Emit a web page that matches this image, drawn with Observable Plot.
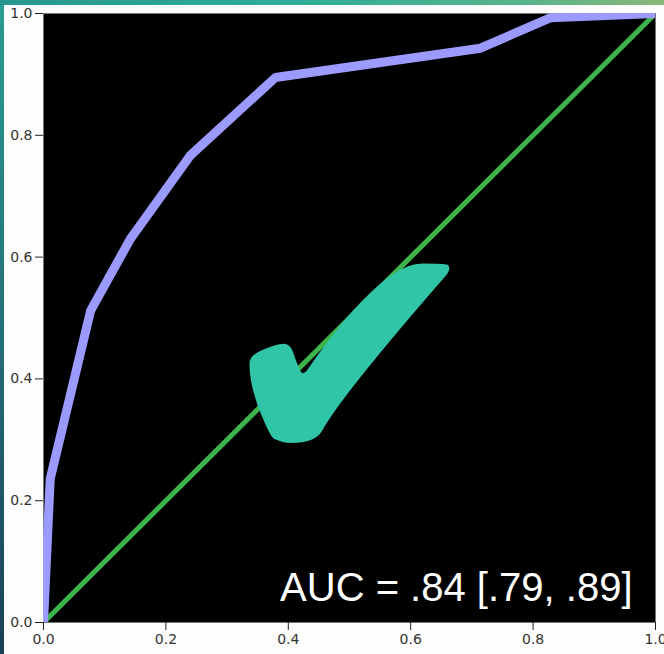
<!DOCTYPE html>
<html>
<head>
<meta charset="utf-8">
<script src="https://cdn.jsdelivr.net/npm/d3@7"></script>
<script src="https://cdn.jsdelivr.net/npm/@observablehq/plot@0.6"></script>
<style>
  html, body { margin: 0; padding: 0; }
  body {
    width: 664px; height: 654px; overflow: hidden; position: relative;
    background: linear-gradient(180deg, #2a9d90 0%, #23707a 50%, #1b3f5a 100%);
  }
  #topstrip {
    position: absolute; left: 0; top: 0; width: 664px; height: 6px;
    background: linear-gradient(90deg, #26978e 0%, #2fae98 45%, #5ab48a 80%, #8ab877 100%);
  }
  #panel {
    position: absolute; left: 4px; top: 5px; width: 660px; height: 649px; background: #fdfdfd;
  }
</style>
</head>
<body>
<div id="topstrip"></div>
<div id="panel"></div>
<script>
// ROC curve (false positive rate, true positive rate)
const fpr = [0.0, 0.011, 0.077, 0.142, 0.24, 0.379, 0.714, 0.828, 1.0];
const tpr = [0.0, 0.236, 0.512, 0.63, 0.767, 0.895, 0.943, 0.993, 1.0];
// chance line
const chanceX = [0, 1];
const chanceY = [0, 1];
const tickValues = [0.0, 0.2, 0.4, 0.6, 0.8, 1.0];
const aucLabel = "AUC = .84 [.79, .89]";
const checkGlyph = "\u2714";

const roc = fpr.map((x, i) => ({x, y: tpr[i]}));
const chance = chanceX.map((x, i) => ({x, y: chanceY[i]}));

const chart = Plot.plot({
  width: 660,
  height: 649,
  marginLeft: 39,
  marginTop: 8,
  marginRight: 9,
  marginBottom: 32,
  style: {background: "transparent", fontFamily: "DejaVu Sans, sans-serif", fontSize: "13px", color: "#333"},
  x: {domain: [0, 1], ticks: tickValues, tickFormat: d3.format(".1f"), label: null, tickSize: 8, tickPadding: 4},
  y: {domain: [0, 1], ticks: tickValues, tickFormat: d3.format(".1f"), label: null, tickSize: 8, tickPadding: 3},
  marks: [
    Plot.frame({fill: "black", stroke: "#777"}),
    Plot.line(chance, {x: "x", y: "y", stroke: "#3cb44a", strokeWidth: 5, clip: "frame"}),
    Plot.line(roc, {x: "x", y: "y", stroke: "#9b9bff", strokeWidth: 9, strokeLinejoin: "round", clip: "frame"}),
    Plot.text([checkGlyph], {frameAnchor: "middle", dx: 0, dy: 48, text: d => d, fill: "#31c5a8", fontSize: 330, fontFamily: "DejaVu Sans"}),
    Plot.text([aucLabel], {frameAnchor: "bottom-right", dx: -23, dy: -22, text: d => d, fill: "white", fontSize: 40, fontFamily: "Liberation Sans, Arial, sans-serif", textAnchor: "end", lineAnchor: "bottom"}),
    Plot.axisX({ticks: tickValues, tickFormat: d3.format(".1f"), tickSize: 8, tickPadding: 4, stroke: "#222", fontSize: 14, fill: "#333"}),
    Plot.axisY({ticks: tickValues, tickFormat: d3.format(".1f"), tickSize: 8, tickPadding: 3, stroke: "#222", fontSize: 14, fill: "#333"})
  ]
});
document.getElementById("panel").appendChild(chart);
</script>
</body>
</html>
